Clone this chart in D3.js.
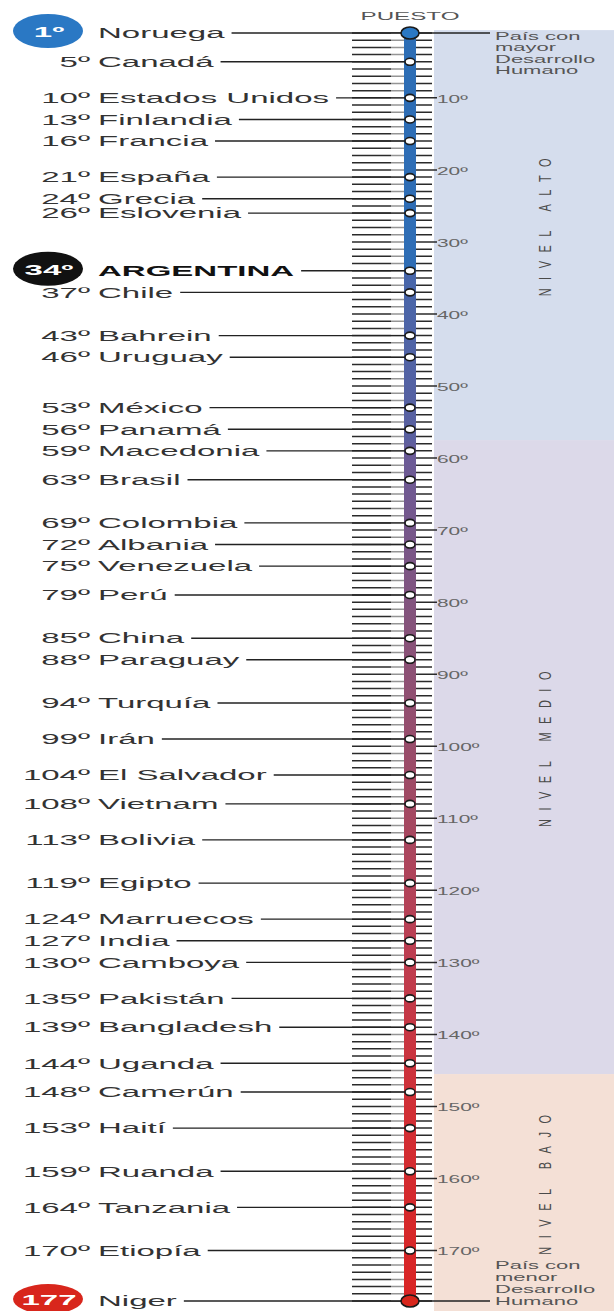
<!DOCTYPE html>
<html>
<head>
<meta charset="utf-8">
<script src="https://cdn.jsdelivr.net/npm/d3@7"></script>
<style>
  body { margin: 0; background: #fff; }
  text { font-family: "Liberation Sans", Arial, sans-serif; }
</style>
</head>
<body>
<div id="chart"></div>
<script>
// puesto en el ranking de Desarrollo Humano
const ranks = [1, 5, 10, 13, 16, 21, 24, 26, 34, 37, 43, 46, 53, 56, 59, 63, 69, 72, 75, 79,
  85, 88, 94, 99, 104, 108, 113, 119, 124, 127, 130, 135, 139, 144, 148, 153, 159, 164, 170, 177];
const countries = ["Noruega", "Canadá", "Estados Unidos", "Finlandia", "Francia", "España", "Grecia",
  "Eslovenia", "ARGENTINA", "Chile", "Bahrein", "Uruguay", "México", "Panamá", "Macedonia", "Brasil",
  "Colombia", "Albania", "Venezuela", "Perú", "China", "Paraguay", "Turquía", "Irán", "El Salvador",
  "Vietnam", "Bolivia", "Egipto", "Marruecos", "India", "Camboya", "Pakistán", "Bangladesh", "Uganda",
  "Camerún", "Haití", "Ruanda", "Tanzania", "Etiopía", "Niger"];
const tickValues = [10, 20, 30, 40, 50, 60, 70, 80, 90, 100, 110, 120, 130, 140, 150, 160, 170];
const levels = ["NIVEL ALTO", "NIVEL MEDIO", "NIVEL BAJO"];
const levelFrom = [0.6, 57.5, 145.5];
const levelTo = [57.5, 145.5, 178.4];
const topNote = ["País con", "mayor", "Desarrollo", "Humano"];
const bottomNote = ["País con", "menor", "Desarrollo", "Humano"];

const width = 614, height = 1311;
const SX = 2.2;           // la imagen original está estirada en horizontal
const FS = 15;
const axisX = 410;

const svg = d3.select("#chart").append("svg")
  .attr("width", width)
  .attr("height", height);

const y = d3.scaleLinear().domain([1, 177]).range([33, 1301]);

// fondos por nivel
const levelColors = ["#d5dded", "#dcd9e9", "#f4e0d6"];
svg.selectAll(".band")
  .data(levels)
  .join("rect")
  .attr("x", 434)
  .attr("y", (d, i) => y(levelFrom[i]))
  .attr("width", width - 434)
  .attr("height", (d, i) => y(levelTo[i]) - y(levelFrom[i]))
  .style("fill", (d, i) => levelColors[i]);

function stretchedText(parent, x, yy, str, size, sx) {
  const g = parent.append("g")
    .attr("transform", "translate(" + x + "," + yy + ") scale(" + sx + ",1)");
  return g.append("text")
    .attr("dy", "0.35em")
    .style("font-size", size + "px")
    .text(str);
}

// rótulos verticales de nivel
levels.forEach(function (d, i) {
  const cy = (y(levelFrom[i]) + y(levelTo[i])) / 2 - 12;
  svg.append("g")
    .attr("transform", "translate(545," + cy + ") scale(1.5,1) rotate(-90)")
    .append("text")
    .attr("text-anchor", "middle")
    .attr("dy", "0.35em")
    .style("font-size", "11px")
    .style("letter-spacing", "8.5px")
    .style("fill", "#4a4a4a")
    .text(d);
});

// marcas de la escala, una por puesto
const allRanks = d3.range(1, 178);
svg.append("g").selectAll("line")
  .data(allRanks)
  .join("line")
  .attr("x1", 352)
  .attr("x2", d => d % 10 === 0 ? 437 : 432)
  .attr("y1", d => y(d))
  .attr("y2", d => y(d))
  .style("stroke", "#2a2a2a")
  .style("stroke-width", 1.5);

// brillo claro a la izquierda de la barra
svg.append("rect")
  .attr("x", 391).attr("y", y(1)).attr("width", 13).attr("height", y(177) - y(1))
  .style("fill", "#fff").style("opacity", 0.5);

// etiquetas de la escala
tickValues.forEach(function (t) {
  stretchedText(svg, 437, y(t) + 1, t + "º", 11, 1.9).style("fill", "#666");
});

// barra con degradé azul -> rojo
const defs = svg.append("defs");
const grad = defs.append("linearGradient")
  .attr("id", "barGrad")
  .attr("x1", 0).attr("y1", 0).attr("x2", 0).attr("y2", 1);
const stops = [
  [0, "#2c6db5"], [0.187, "#2f6db5"], [0.19, "#4766aa"], [0.32, "#5a60a0"],
  [0.33, "#6a5b98"], [0.45, "#82547e"], [0.6, "#a04a64"], [0.72, "#bc3e52"],
  [0.85, "#d12e34"], [1, "#d92424"]
];
grad.selectAll("stop")
  .data(stops)
  .join("stop")
  .attr("offset", d => d[0])
  .attr("stop-color", d => d[1]);

svg.append("rect")
  .attr("x", axisX - 6)
  .attr("y", y(1))
  .attr("width", 12)
  .attr("height", y(177) - y(1))
  .style("fill", "url(#barGrad)");

// PUESTO
stretchedText(svg, axisX, 16, "PUESTO", 11, 2.2)
  .attr("text-anchor", "middle")
  .style("fill", "#555");

// insignias
const badges = { 1: "#2a78c4", 34: "#111", 177: "#d8261c" };

const labels = svg.append("g");
ranks.forEach(function (r, i) {
  const yy = y(r);
  const isArg = r === 34;
  const nameNode = stretchedText(labels, 98, yy, countries[i], FS, SX)
    .style("fill", isArg ? "#111" : "#333")
    .style("font-weight", isArg ? "bold" : "normal");
  const nameEnd = 98 + nameNode.node().getComputedTextLength() * SX;

  if (badges[r]) {
    labels.append("ellipse")
      .attr("cx", 48).attr("cy", yy - 2)
      .attr("rx", 35).attr("ry", r === 177 ? 15 : 17)
      .style("fill", badges[r]);
    stretchedText(labels, 49, yy - 1, r === 177 ? "177" : r + "º", FS, SX)
      .attr("text-anchor", "middle")
      .style("fill", "#fff")
      .style("font-weight", "bold");
  } else {
    stretchedText(labels, 90, yy, r + "º", FS, SX)
      .attr("text-anchor", "end")
      .style("fill", "#333");
  }

  const extend = (r === 1 || r === 177);
  labels.append("line")
    .attr("x1", nameEnd + 7)
    .attr("x2", extend ? 490 : axisX)
    .attr("y1", yy).attr("y2", yy)
    .style("stroke", "#222")
    .style("stroke-width", 1.4);
});

// puntos sobre la barra
svg.append("g").selectAll("ellipse")
  .data(ranks)
  .join("ellipse")
  .attr("cx", axisX)
  .attr("cy", d => y(d))
  .attr("rx", d => (d === 1 || d === 177) ? 9 : 5)
  .attr("ry", d => (d === 1 || d === 177) ? 6 : 3.5)
  .style("fill", d => d === 1 ? "#2a78c4" : (d === 177 ? "#d8261c" : "#fff"))
  .style("stroke", "#1a1a1a")
  .style("stroke-width", 1.6);

// notas de extremos
topNote.forEach(function (t, i) {
  stretchedText(svg, 495, 36 + i * 11.5, t, 10, 2.2).style("fill", "#555");
});
bottomNote.forEach(function (t, i) {
  stretchedText(svg, 495, 1265 + i * 12, t, 10, 2.2).style("fill", "#555");
});
</script>
</body>
</html>
